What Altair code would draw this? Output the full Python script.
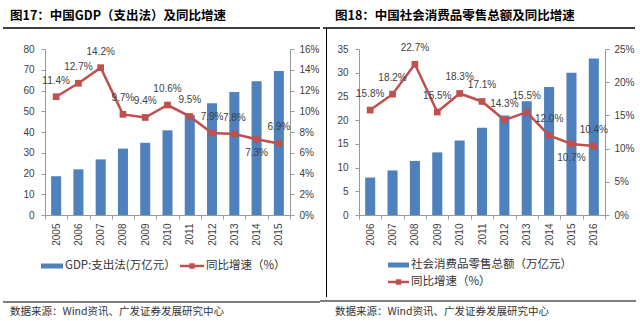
import altair as alt
import pandas as pd

# ---------------- data ----------------
years_a = ["2005", "2006", "2007", "2008", "2009", "2010", "2011", "2012", "2013", "2014", "2015"]
gdp_value = [18.7, 22.0, 26.8, 32.0, 34.8, 40.8, 48.2, 53.9, 59.3, 64.5, 69.4]
gdp_growth = [11.4, 12.7, 14.2, 9.7, 9.4, 10.6, 9.5, 7.9, 7.8, 7.3, 6.9]

years_b = ["2006", "2007", "2008", "2009", "2010", "2011", "2012", "2013", "2014", "2015", "2016"]
retail_value = [7.9, 9.4, 11.4, 13.2, 15.7, 18.4, 21.0, 24.0, 27.0, 30.0, 33.0]
retail_growth = [15.8, 18.2, 22.7, 15.5, 18.3, 17.1, 14.3, 15.5, 12.0, 10.7, 10.4]

ticks_a_left = [0, 10, 20, 30, 40, 50, 60, 70, 80]
ticks_a_right = [0, 2, 4, 6, 8, 10, 12, 14, 16]
ticks_b_left = [0, 5, 10, 15, 20, 25, 30, 35]
ticks_b_right = [0, 5, 10, 15, 20, 25]

labels_below_a = ["2014"]
labels_below_b = ["2015"]

title_a = "图17：中国GDP（支出法）及同比增速"
title_b = "图18：中国社会消费品零售总额及同比增速"
legend_bar_a = "GDP:支出法(万亿元）"
legend_bar_b = "社会消费品零售总额（万亿元）"
legend_line = "同比增速（%）"
source_text = "数据来源：Wind资讯、广发证券发展研究中心"

# ---------------- style ----------------
BLUE = "#4F81BD"
RED = "#C0504D"
AXIS_GREY = "#9A9A9A"
LABEL_COL = "#404040"
NUM_FONT = "Liberation Sans"
CJK_FONT = "Noto Sans CJK SC"
H = 166


def one():
    return alt.Chart(alt.Data(values=[{}]))


def rect(x, x2, y, y2, color):
    return one().mark_rect(color=color).encode(
        x=alt.value(x), x2=alt.value(x2), y=alt.value(y), y2=alt.value(y2))


def rule(x, x2, y, y2, color="black", sw=1.0):
    return one().mark_rule(color=color, strokeWidth=sw).encode(
        x=alt.value(x), x2=alt.value(x2), y=alt.value(y), y2=alt.value(y2))


def text(x, y, s, size, color="black", weight="normal", font=CJK_FONT):
    return one().mark_text(align="left", baseline="middle", fontSize=size,
                           fontWeight=weight, color=color, font=font).encode(
        x=alt.value(x), y=alt.value(y), text=alt.value(s))


def square(x, y):
    return one().mark_point(shape="square", filled=True, size=30, color=RED, opacity=1).encode(
        x=alt.value(x), y=alt.value(y))


def panel(years, values, growth, lticks, rticks, below, width, deco):
    df = pd.DataFrame({"year": years, "v": values, "g": growth})
    base = alt.Chart(df)
    x = alt.X("year:N", sort=None,
              scale=alt.Scale(paddingInner=0, paddingOuter=0),
              axis=alt.Axis(title=None, labelAngle=270, tickBand="extent",
                            domainColor=AXIS_GREY, tickColor=AXIS_GREY, tickSize=4,
                            labelPadding=4, labelFont=NUM_FONT, labelFontSize=10,
                            labelColor=LABEL_COL, grid=False))
    bars = base.mark_bar(color=BLUE, width=alt.RelativeBandSize(0.45)).encode(
        x=x,
        y=alt.Y("v:Q", scale=alt.Scale(domain=[lticks[0], lticks[-1]], nice=False),
                axis=alt.Axis(title=None, orient="left", values=lticks, grid=False,
                              domainColor=AXIS_GREY, tickColor=AXIS_GREY, tickSize=4,
                              labelPadding=7, labelFont=NUM_FONT, labelFontSize=10,
                              labelColor=LABEL_COL)))
    yr = alt.Y("g:Q", scale=alt.Scale(domain=[rticks[0], rticks[-1]], nice=False),
               axis=alt.Axis(title=None, orient="right", values=rticks, grid=False,
                             domainColor=AXIS_GREY, tickColor=AXIS_GREY, tickSize=4,
                             labelPadding=5, labelFont=NUM_FONT, labelFontSize=10,
                             labelColor=LABEL_COL, labelExpr="datum.value + '%'"))
    line = base.mark_line(color=RED, strokeWidth=2.5).encode(x=x, y=yr)
    pts = base.mark_point(shape="square", filled=True, size=45, color=RED, opacity=1).encode(x=x, y=yr)
    lab = base.transform_calculate(lbl="format(datum.g, '.1f') + '%'")
    below_list = "[" + ",".join("'" + b + "'" for b in below) + "]"
    lab_up = lab.transform_filter("indexof(" + below_list + ", datum.year) < 0").mark_text(
        dy=-16, fontSize=10, font=NUM_FONT, color=LABEL_COL).encode(x=x, y=yr, text="lbl:N")
    lab_dn = lab.transform_filter("indexof(" + below_list + ", datum.year) >= 0").mark_text(
        dy=14, fontSize=10, font=NUM_FONT, color=LABEL_COL).encode(x=x, y=yr, text="lbl:N")
    growth_layer = alt.layer(line, pts, lab_up, lab_dn)
    return alt.layer(bars, growth_layer, *deco).resolve_scale(y="independent").properties(
        width=width, height=H)


# left panel origin on page: (45, 49)
deco_a = [
    rect(-45, -44, -49, -48, "white"),
    text(-35, -33, title_a, 12.5, weight="bold"),
    rule(-42, 275, -21, -21, "black", 1.3),
    rect(-4, 18, 214.5, 219.5, BLUE),
    text(20, 217, legend_bar_a, 11.5, color="#333333"),
    rule(135, 159, 217, 217, RED, 2.5),
    square(147, 217),
    text(161, 217, legend_line, 11.5, color="#333333"),
    rule(-42, 275, 253, 253, "black", 1.0),
    text(-35, 263, source_text, 10.5, color="#333333"),
]

# right panel origin on page: (359, 49)
deco_b = [
    text(-24, -33, title_b, 12.5, weight="bold"),
    rule(-36, 276, -21, -21, "black", 1.3),
    rule(-32.5, -32.5, -21, 248, "black", 1.0),
    rect(29, 50, 213.5, 218.5, BLUE),
    text(52, 216, legend_bar_b, 11.5, color="#333333"),
    rule(29, 50, 233, 233, RED, 2.5),
    square(39.5, 233),
    text(52, 233, legend_line, 11.5, color="#333333"),
    rule(-39, 277, 252, 252, "black", 1.0),
    text(-24, 263, source_text, 10.5, color="#333333"),
    rect(280, 281, 271, 272, "white"),
]

left = panel(years_a, gdp_value, gdp_growth, ticks_a_left, ticks_a_right, labels_below_a, 245, deco_a)
right = panel(years_b, retail_value, retail_growth, ticks_b_left, ticks_b_right, labels_below_b, 246, deco_b)

chart = alt.hconcat(left, right, spacing=69, bounds="flush").properties(
    padding=0, background="white"
).configure_view(stroke=None)

chart.save("out.html", embed_options={"renderer": "svg", "actions": False})
